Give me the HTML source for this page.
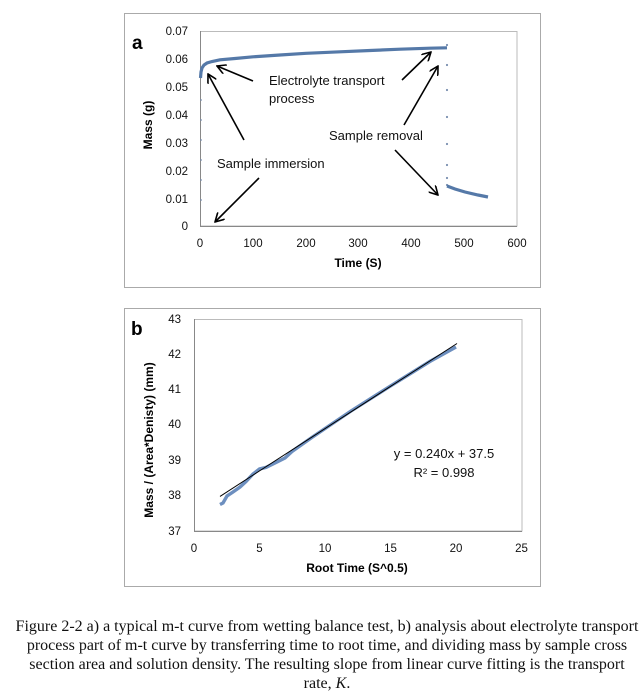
<!DOCTYPE html>
<html><head><meta charset="utf-8"><style>
body{margin:0;background:#fff;width:640px;height:700px;overflow:hidden;position:relative;font-family:"Liberation Sans",sans-serif}
.cap{position:absolute;left:0;width:654px;text-align:center;font-family:"Liberation Serif",serif;font-size:16px;white-space:nowrap;color:#111}
</style></head><body>
<svg width="640" height="600" style="position:absolute;left:0;top:0" font-family="Liberation Sans, sans-serif">
<defs><marker id="ah" markerWidth="10" markerHeight="10" refX="9" refY="5" orient="auto" markerUnits="userSpaceOnUse"><path d="M0,0 L9,5 L0,10" fill="none" stroke="#000" stroke-width="1.6"/></marker></defs>
<!-- chart a -->
<rect x="124.5" y="13.5" width="416" height="274" fill="#fff" stroke="#aaa"/>
<rect x="200.5" y="31.5" width="316.5" height="194.5" fill="none" stroke="#bbb"/>
<line x1="200.5" y1="31" x2="200.5" y2="226" stroke="#888"/>
<line x1="200" y1="226.5" x2="517" y2="226.5" stroke="#888"/>
<g font-size="11.5" fill="#111" text-anchor="end">
<text x="188" y="35">0.07</text><text x="188" y="63">0.06</text><text x="188" y="91">0.05</text><text x="188" y="119">0.04</text><text x="188" y="147">0.03</text><text x="188" y="175">0.02</text><text x="188" y="203">0.01</text><text x="188" y="230">0</text>
</g>
<g font-size="11.5" fill="#111" text-anchor="middle">
<text x="200" y="247">0</text><text x="253" y="247">100</text><text x="306" y="247">200</text><text x="358" y="247">300</text><text x="411" y="247">400</text><text x="464" y="247">500</text><text x="517" y="247">600</text>
</g>
<text x="358" y="267" font-size="12" font-weight="bold" text-anchor="middle">Time (S)</text>
<text transform="translate(152,125) rotate(-90)" font-size="12" font-weight="bold" text-anchor="middle">Mass  (g)</text>
<text x="132" y="49" font-size="19" font-weight="bold">a</text>
<g fill="#7a90b0"><circle cx="201" cy="200" r="0.9"/><circle cx="201" cy="180" r="0.9"/><circle cx="201" cy="160" r="0.9"/><circle cx="201" cy="140" r="0.9"/><circle cx="201" cy="120" r="0.9"/><circle cx="201" cy="100" r="0.9"/>
<circle cx="447" cy="45" r="1.1"/><circle cx="447" cy="65" r="1.1"/><circle cx="447" cy="90" r="1.1"/><circle cx="447" cy="117" r="1.1"/><circle cx="447" cy="144" r="1.1"/><circle cx="447" cy="165" r="1.1"/><circle cx="447" cy="178" r="1.1"/><circle cx="447" cy="185" r="1.1"/></g>
<path d="M200.5,78 L201,72 L202,68 L204,65 L207,63 L212,61.5 L220,59.8 L235,58.5 L253,56.8 L280,55 L306,53.3 L340,51.8 L370,50.5 L400,49.2 L430,48.2 L447,47.8" fill="none" stroke="#5579a8" stroke-width="3.2"/>
<path d="M447,186 L455,189 L465,192 L478,195 L488,197" fill="none" stroke="#5579a8" stroke-width="3.2"/>
<g font-size="13" fill="#111">
<text x="269" y="85">Electrolyte transport</text><text x="269" y="103">process</text>
<text x="329" y="140">Sample removal</text>
<text x="217" y="168">Sample immersion</text>
</g>
<g stroke="#000" stroke-width="1.6" marker-end="url(#ah)">
<line x1="253" y1="81" x2="217" y2="66"/>
<line x1="244" y1="140" x2="208" y2="74"/>
<line x1="259" y1="178" x2="215" y2="222"/>
<line x1="402" y1="80" x2="431" y2="52"/>
<line x1="404" y1="125" x2="438" y2="66"/>
<line x1="395" y1="150" x2="438" y2="195"/>
</g>
<!-- chart b -->
<rect x="124.5" y="308.5" width="416" height="278" fill="#fff" stroke="#aaa"/>
<rect x="194.5" y="319.5" width="327.5" height="211.5" fill="none" stroke="#bbb"/>
<line x1="194.5" y1="319" x2="194.5" y2="531" stroke="#888"/>
<line x1="194" y1="531.5" x2="522" y2="531.5" stroke="#888"/>
<g font-size="11.5" fill="#111" text-anchor="end">
<text x="181" y="323">43</text><text x="181" y="358">42</text><text x="181" y="393">41</text><text x="181" y="428">40</text><text x="181" y="464">39</text><text x="181" y="499">38</text><text x="181" y="535">37</text>
</g>
<g font-size="11.5" fill="#111" text-anchor="middle">
<text x="194" y="552">0</text><text x="259.5" y="552">5</text><text x="325" y="552">10</text><text x="390.5" y="552">15</text><text x="456" y="552">20</text><text x="521.5" y="552">25</text>
</g>
<text x="357" y="572" font-size="12" font-weight="bold" text-anchor="middle">Root Time (S^0.5)</text>
<text transform="translate(153,440) rotate(-90)" font-size="12" font-weight="bold" text-anchor="middle">Mass / (Area*Denisty)  (mm)</text>
<text x="131" y="335" font-size="19" font-weight="bold">b</text>
<path d="M220,504.5 L223,503 L227,496 L233,492 L240,487 L246,481.5 L253,474 L259.5,469 L266,467.4 L273,464 L279,461 L285,458 L292,451.5 L312,437.4 L351,411 L390.5,386 L430,361.4 L456,347" fill="none" stroke="#6d8fbf" stroke-width="3.4"/>
<line x1="220" y1="496.4" x2="457" y2="343.5" stroke="#000" stroke-width="1"/>
<g font-size="13" fill="#111" text-anchor="middle">
<text x="444" y="458">y = 0.240x + 37.5</text><text x="444" y="477">R² = 0.998</text>
</g>
</svg>
<div class="cap" style="top:618px">Figure 2-2 a) a typical m-t curve from wetting balance test, b) analysis about electrolyte transport</div>
<div class="cap" style="top:637px">process part of m-t curve by transferring time to root time, and dividing mass by sample cross</div>
<div class="cap" style="top:656px">section area and solution density. The resulting slope from linear curve fitting is the transport</div>
<div class="cap" style="top:675px">rate, <i>K</i>.</div>
</body></html>
